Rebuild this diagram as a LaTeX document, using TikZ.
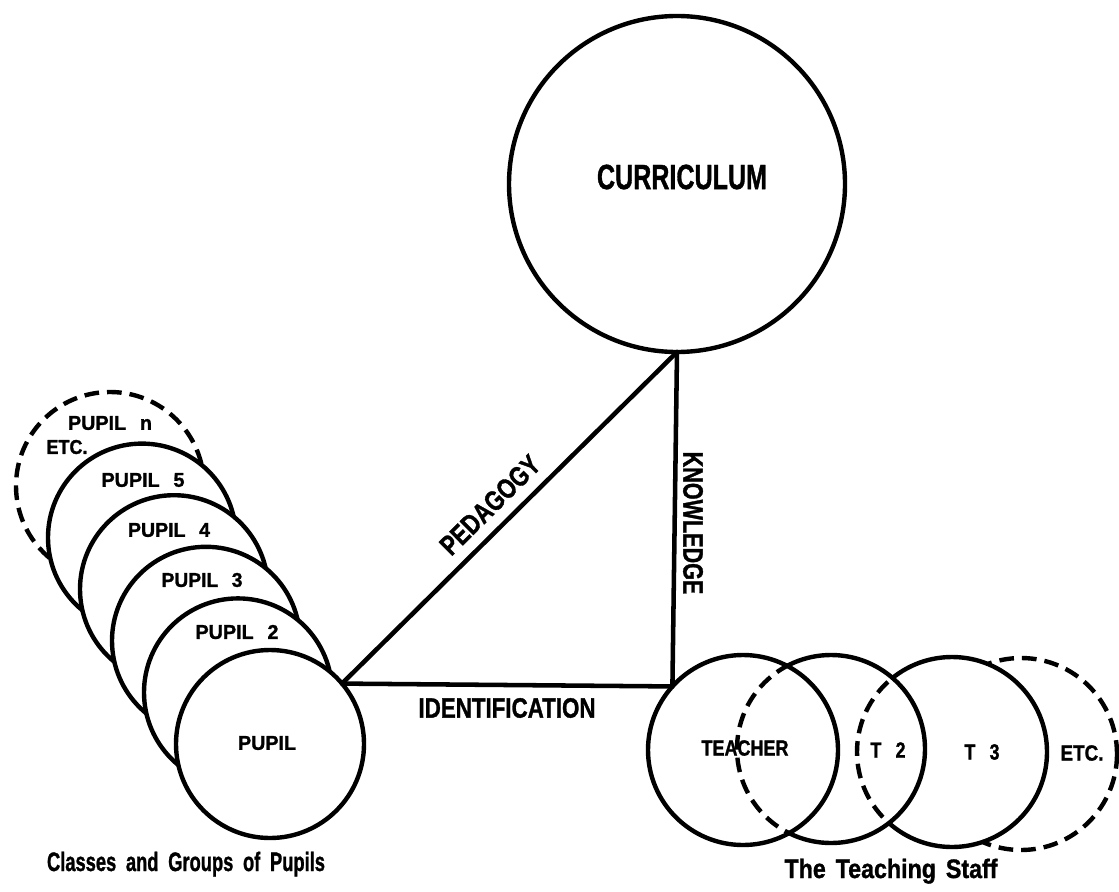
\documentclass[tikz,border=0pt]{standalone}
\usepackage{fontspec}
\setmainfont{Liberation Sans}[BoldFeatures={FakeBold=1.3}]
\usepackage{graphicx}

% set a label to a given width, keeping its natural height
\newcommand{\txtw}[2]{\resizebox{#1}{\height}{#2}}

\begin{document}
\begin{tikzpicture}[x=0.75pt, y=-0.75pt,
  ring/.style={circle, draw=black, line width=3.3pt, fill=white,
               inner sep=0pt, outer sep=0pt, minimum size=#1},
  ghost/.style={circle, inner sep=0pt, outer sep=0pt, minimum size=#1},
  solidline/.style={line width=3.3pt},
  dashline/.style={line width=3.3pt, dash pattern=on 11pt off 6pt},
  edge/.style={line width=3.4pt, line cap=round},
  lab/.style={inner sep=0pt, font=\bfseries\fontsize{#1}{#1}\selectfont},
]
\useasboundingbox (0,0) rectangle (1119,891);

% ---- curriculum ----
\node[ring=252pt] (curr) at (677,184) {};

% ---- stack of pupils, back to front ----
\node[ring=141pt, dash pattern=on 11pt off 6pt] (pn) at (110,486) {};
\node[ring=141pt] (p5) at (142,537.6) {};
\node[ring=141pt] (p4) at (174,589.2) {};
\node[ring=141pt] (p3) at (206,640.8) {};
\node[ring=141pt] (p2) at (238,692.4) {};
\node[ring=141pt] (pupil) at (270,744) {};

% ---- teaching staff ----
\node[ghost=144pt]   (tetc)    at (1021,754) {};
\node[ghost=142.5pt] (t3)      at (952,752) {};
\node[ghost=141pt]   (t2)      at (831,749) {};
\node[ghost=142.5pt] (teacher) at (743,750) {};

\draw[dashline] (tetc.center) circle[radius=96];
\fill[white] (t3.center) circle[radius=95];
\draw[solidline] (t3.center) circle[radius=95];

\fill[white] (t2.center) circle[radius=94];
\begin{scope}
  \clip (t2.center) circle[radius=94];
  \draw[dashline] (t3.center) circle[radius=95];
\end{scope}
\draw[solidline] (t2.center) circle[radius=94];

\fill[white] (teacher.center) circle[radius=95];
\begin{scope}
  \clip (teacher.center) circle[radius=95];
  \draw[dashline] (t2.center) circle[radius=94];
\end{scope}
\draw[solidline] (teacher.center) circle[radius=95];

% ---- triangle of relations ----
\draw[edge] (pupil.40) -- (curr.south);
\draw[edge] (curr.south) -- (teacher.138);
\draw[edge] (pupil.40) -- (teacher.138);

% ---- labels ----
\node[lab=26.2] (lcurr) at (682,177) {\txtw{127.5pt}{CURRICULUM}};
\node[lab=21, rotate=44.7] (lped) at (490,505) {\txtw{96pt}{PEDAGOGY}};
\node[lab=21, rotate=-90] (lknow) at (693,523) {\txtw{107pt}{KNOWLEDGE}};
\node[lab=21] (lident) at (507,708) {\txtw{132.75pt}{IDENTIFICATION}};

\node[lab=15] (lpupil) at (267,743) {\txtw{43.5pt}{PUPIL}};
\node[lab=15] (lp2) at (237,632) {\txtw{62.25pt}{PUPIL\hspace{0.7em}2}};
\node[lab=15] (lp3) at (202,580) {\txtw{60.75pt}{PUPIL\hspace{0.7em}3}};
\node[lab=15] (lp4) at (169,530) {\txtw{61.5pt}{PUPIL\hspace{0.7em}4}};
\node[lab=15] (lp5) at (143,480) {\txtw{62.25pt}{PUPIL\hspace{0.7em}5}};
\node[lab=15] (lpn) at (110,423) {\txtw{63pt}{PUPIL\hspace{0.7em}n}};
\node[lab=15] (lpetc) at (67,447) {\txtw{30.75pt}{ETC.}};

\node[lab=16.5] (lteacher) at (745,748) {\txtw{65.25pt}{TEACHER}};
\node[lab=16.5] (lt2) at (888,750) {\txtw{26.25pt}{T\hspace{0.8em}2}};
\node[lab=16.5] (lt3) at (982,752) {\txtw{26.25pt}{T\hspace{0.8em}3}};
\node[lab=16.5] (ltetc) at (1082,753) {\txtw{32.25pt}{ETC.}};

\node[lab=20, anchor=base] (lclasses) at (186,871)
  {\txtw{208.5pt}{Classes\hspace{0.25em} and\hspace{0.25em} Groups\hspace{0.25em} of\hspace{0.25em} Pupils}};
\node[lab=20, anchor=base] (lstaff) at (891,878)
  {\txtw{159.75pt}{The\hspace{0.15em} Teaching\hspace{0.15em} Staff}};
\end{tikzpicture}
\end{document}
